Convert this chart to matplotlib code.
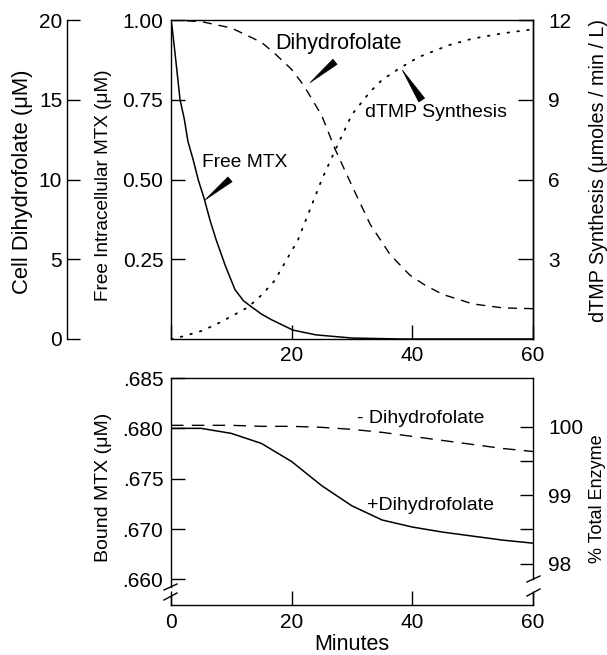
import matplotlib
matplotlib.use('Agg')
import matplotlib.pyplot as plt
from matplotlib.patches import Polygon

plt.rcParams['font.family'] = ['Liberation Sans', 'DejaVu Sans']

# ---------------- data ----------------
# Top panel
t_mtx = [0, 0.2, 0.7, 1.5, 2.2, 2.8, 3.7, 4.5, 5.5, 6.5, 7.5, 9, 10.6, 12, 13.4, 15, 16.7, 20.2, 24, 30, 38, 60]
free_mtx = [1.0, 0.975, 0.89, 0.75, 0.69, 0.62, 0.56, 0.50, 0.44, 0.37, 0.31, 0.23, 0.155, 0.12, 0.10, 0.078, 0.06,
            0.028, 0.013, 0.003, 0.0, 0.0]

t_dhf = [0, 5, 10, 15, 17.2, 20, 22, 25, 27.2, 30, 33, 36.3, 39.6, 42, 45, 50, 55, 60]
cell_dhf = [20.0, 19.9, 19.5, 18.6, 17.9, 16.9, 15.9, 14.0, 11.9, 9.6, 7.2, 5.3, 4.0, 3.4, 2.8, 2.2, 1.95, 1.9]

t_dtmp = [0, 2, 5, 7.3, 10, 12.8, 15, 17.2, 19.7, 21, 23, 25, 27.2, 30, 33, 35, 38, 41, 46, 50, 55, 60]
dtmp = [0, 0.1, 0.3, 0.53, 0.85, 1.2, 1.65, 2.2, 3.2, 3.7, 4.85, 6.0, 7.1, 8.45, 9.3, 9.75, 10.2, 10.6,
        11.05, 11.3, 11.5, 11.65]

# Bottom panel
t_bound = [0, 5, 10, 15, 20, 25, 30, 35, 40, 45, 50, 55, 60]
bound_plus = [.6800, .6800, .6795, .6785, .6767, .6743, .6723, .6709, .6702, .6697, .6693, .6689, .6686]
bound_minus = [.6803, .6803, .6803, .6802, .6802, .6801, .6799, .6796, .6792, .6788, .6784, .6780, .6777]
bound_full = 0.68016  # bound MTX equal to 100 % total enzyme

# ticks
top_xticks = [0, 20, 40, 60]
top_xlabels = ['', '20', '40', '60']
mtx_ticks = [0.25, 0.50, 0.75, 1.00]
mtx_labels = ['0.25', '0.50', '0.75', '1.00']
dhf_ticks = [0, 5, 10, 15, 20]
dtmp_ticks = [3, 6, 9, 12]
bot_xticks = [0, 20, 40, 60]
bound_ticks = [.665, .670, .675, .680, .685]
bound_labels = ['.660', '.670', '.675', '.680', '.685']
pct_ticks = [98, 98.5, 99, 99.5, 100]
pct_labels = ['98', '', '99', '', '100']

# ---------------- figure ----------------
W, H = 607, 655
fig = plt.figure(figsize=(W / 100, H / 100), dpi=100)


def rect(l, t, r, b):
    return [l / W, 1 - b / H, (r - l) / W, (b - t) / H]


TS = 15  # tick label size
SLW = 1.0
for k in ['axes.linewidth', 'xtick.major.width', 'ytick.major.width']:
    plt.rcParams[k] = SLW

# ---- top panel ----
ax = fig.add_axes(rect(171, 20, 533, 339))
ax.set_xlim(0, 60)
ax.set_ylim(0, 1.0)
ax.plot(t_mtx, free_mtx, color='black', lw=1.1)
ax.set_xticks(top_xticks)
ax.set_xticklabels(top_xlabels)
ax.set_yticks(mtx_ticks)
ax.set_yticklabels(mtx_labels)
ax.tick_params(axis='both', direction='in', length=10, labelsize=TS, width=SLW)
ax.tick_params(axis='y', pad=5.5)
ax.tick_params(axis='x', pad=5)

ax2 = ax.twinx()
ax2.set_ylim(0, 20)
ax2.plot(t_dhf, cell_dhf, color='black', lw=1.0, linestyle=(0, (6.5, 5)))
ax2.spines['left'].set_position(('axes', (67 - 171) / 362))
ax2.spines['left'].set_visible(True)
for s in ['right', 'top', 'bottom']:
    ax2.spines[s].set_visible(False)
ax2.yaxis.set_ticks_position('left')
ax2.yaxis.set_label_position('left')
ax2.set_yticks(dhf_ticks)
ax2.tick_params(axis='y', direction='in', length=9.5, labelsize=TS, pad=3.5, width=SLW)

ax3 = ax.twinx()
ax3.set_ylim(0, 12)
ax3.plot(t_dtmp, dtmp, color='black', lw=1.3, linestyle=(0, (0.9, 4.6)), dash_capstyle='round')
for s in ['left', 'top', 'bottom']:
    ax3.spines[s].set_visible(False)
ax3.set_yticks(dtmp_ticks)
ax3.tick_params(axis='y', direction='in', length=10.5, labelsize=TS, pad=11, width=SLW)

# annotations (top)
ax.text(17.24, 0.909, 'Dihydrofolate', fontsize=15.5, ha='left', va='baseline')
ax.text(32.16, 0.696, 'dTMP Synthesis', fontsize=14, ha='left', va='baseline')
ax.text(5.14, 0.539, 'Free MTX', fontsize=13.8, ha='left', va='baseline')
for tri in ([(23.04, 0.8035), (27.53, 0.861), (26.84, 0.877)],
            [(38.34, 0.843), (42.03, 0.755), (41.07, 0.743)],
            [(5.64, 0.436), (10.13, 0.493), (9.43, 0.508)]):
    ax.add_patch(Polygon(tri, closed=True, facecolor='black', edgecolor='black', lw=0.5, zorder=5))

# ---- bottom panel ----
ylo, yhi = .66246, .685
axb = fig.add_axes(rect(171, 378, 533, 605))
axb.set_xlim(0, 60)
axb.set_ylim(ylo, yhi)
axb.plot(t_bound, bound_plus, color='black', lw=1.1)
axb.plot(t_bound, bound_minus, color='black', lw=1.0, linestyle=(0, (9, 6)))
axb.set_xticks(bot_xticks)
axb.set_yticks(bound_ticks)
axb.set_yticklabels(bound_labels)
axb.tick_params(axis='both', direction='in', length=10, labelsize=TS, width=SLW)
axb.tick_params(axis='y', pad=5.5)
axb.tick_params(axis='x', pad=6)
axb.spines['right'].set_visible(False)

axb2 = axb.twinx()
axb2.set_ylim(ylo / bound_full * 100, yhi / bound_full * 100)
axb2.set_yticks(pct_ticks)
axb2.set_yticklabels(pct_labels)
axb2.tick_params(axis='y', direction='in', length=9.5, labelsize=TS, pad=11, width=SLW)
for s in ['left', 'top', 'bottom']:
    axb2.spines[s].set_visible(False)

axb.text(30.83, .6805, '- Dihydrofolate', fontsize=14, ha='left', va='baseline')
axb.text(32.5, .6719, '+Dihydrofolate', fontsize=14, ha='left', va='baseline')

# axis breaks
def ay2d(a):
    return ylo + a * (yhi - ylo)

axb.spines['left'].set_bounds(ay2d(0.0793), yhi)
axb.plot([0, 0], [0, 0.0396], transform=axb.transAxes, color='black', lw=SLW, clip_on=False)
pl = lambda a: ay2d(a) / bound_full * 100
axb2.spines['right'].set_bounds(pl(0.1145), pl(1.0))
axb.plot([1, 1], [0, 0.055], transform=axb.transAxes, color='black', lw=SLW, clip_on=False)
for (x0, y0, x1, y1) in [(-0.0193, 0.0661, 0.0166, 0.0925), (-0.0193, 0.022, 0.0166, 0.0529),
                         (0.9834, 0.1013, 1.0193, 0.1278), (0.9834, 0.0396, 1.0193, 0.0705)]:
    axb.plot([x0, x1], [y0, y1], transform=axb.transAxes, color='black', lw=SLW, clip_on=False)

# ---- axis labels ----
fig.text(23 / W, 1 - 182 / H, 'Cell Dihydrofolate (\u03bcM)', rotation=90, ha='center', va='center', fontsize=15.8)
fig.text(104 / W, 1 - 185 / H, 'Free Intracellular MTX (\u03bcM)', rotation=90, ha='center', va='center', fontsize=13.7)
fig.text(598 / W, 1 - 170 / H, 'dTMP Synthesis (\u03bcmoles / min / L)', rotation=90, ha='center', va='center', fontsize=14.2)
fig.text(103 / W, 1 - 487 / H, 'Bound MTX (\u03bcM)', rotation=90, ha='center', va='center', fontsize=14)
fig.text(598 / W, 1 - 499 / H, '% Total Enzyme', rotation=90, ha='center', va='center', fontsize=13)
fig.text(351.5 / W, 1 - 650 / H, 'Minutes', ha='center', va='baseline', fontsize=15.5)

fig.savefig('out.png', dpi=100)
